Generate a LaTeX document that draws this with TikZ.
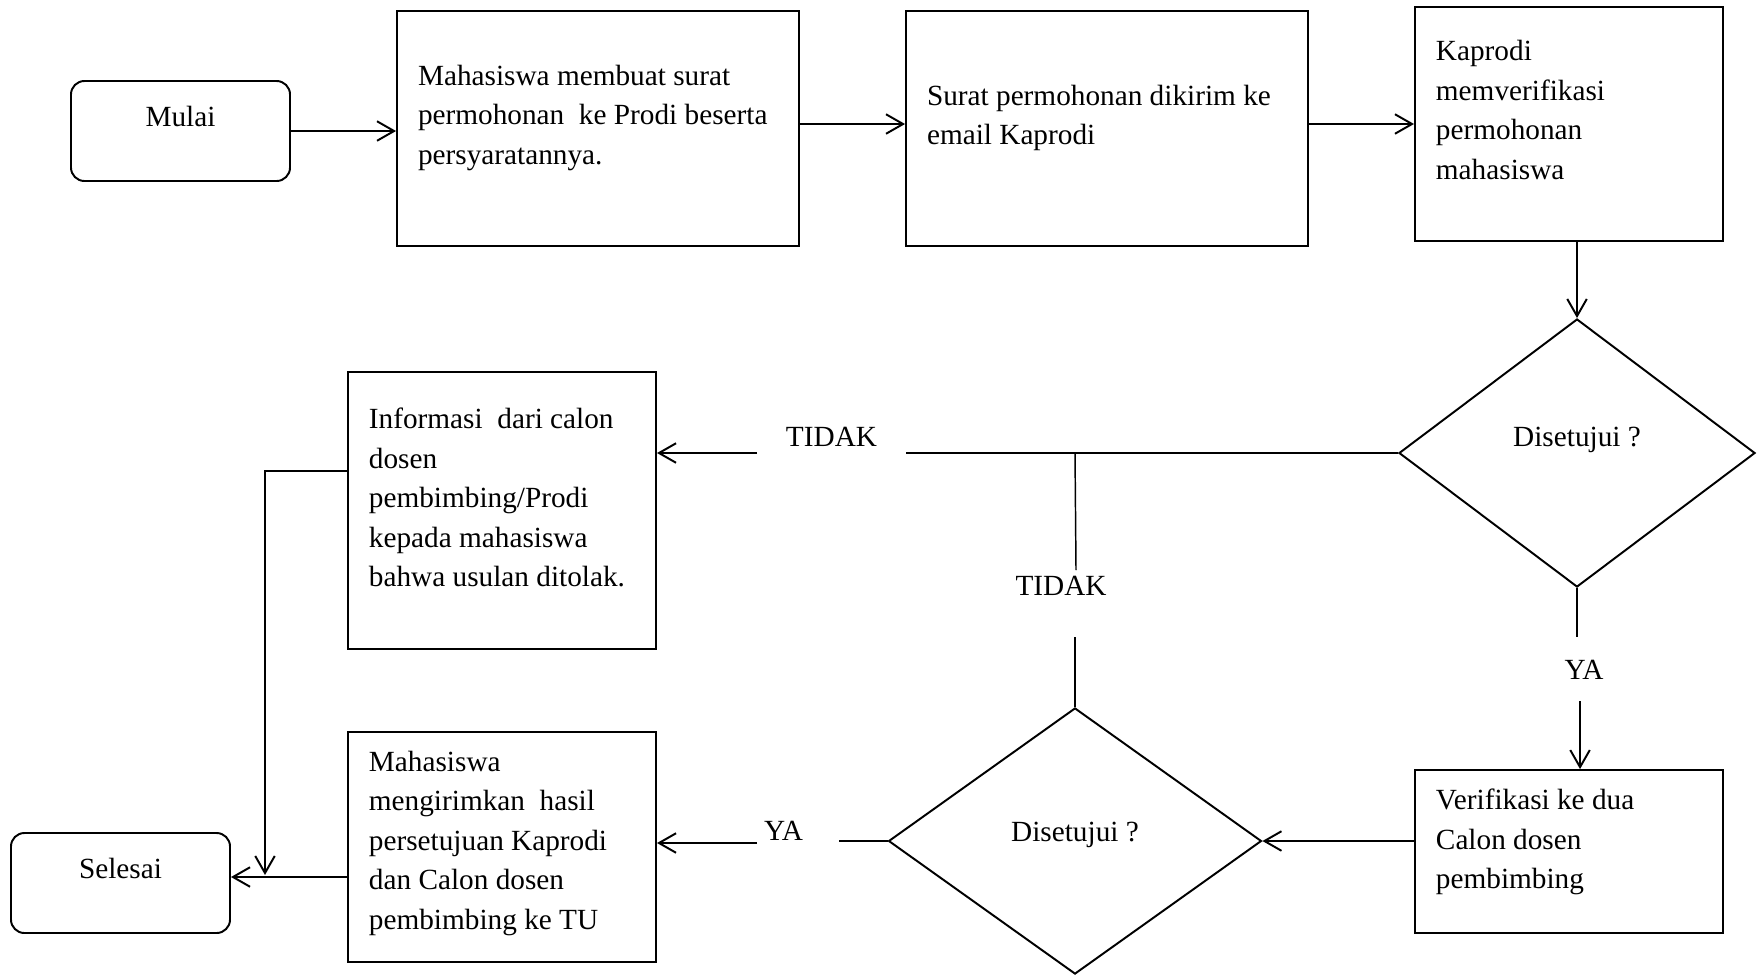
\documentclass[tikz,border=0pt]{standalone}
\usepackage{fontspec}
\setmainfont{Liberation Serif}
\usetikzlibrary{shapes.geometric, arrows.meta}
\newcommand{\ruangbawah}[1]{\endgraf\vspace*{#1}}

\begin{document}
\begin{tikzpicture}[x=0.41pt, y=-0.41pt, line width=0.8pt,
  >={Straight Barb[length=7pt,width=8pt]},
  every node/.style={font=\fontsize{12pt}{16.2pt}\selectfont},
  proses/.style={draw, rectangle, inner xsep=8.6pt, inner ysep=0pt,
    execute at begin node={\raggedright\spaceskip=3pt\relax},
    execute at end node={\ruangbawah{#1}}},
  proses/.default=8.7pt,
  terminal/.style={draw, rectangle, rounded corners=5.5pt, minimum width=89.8pt,
    minimum height=41pt, text height=9pt, text depth=12.8pt},
  keputusan/.style={draw, diamond, inner sep=0pt, text height=8pt, text depth=8pt},
  jawab/.style={inner sep=0pt, anchor=base}]
\useasboundingbox (0,0) rectangle (1758,977);

% Top row
\node[terminal] (mulai) at (180.5,131) {Mulai};
\node[proses, minimum width=164.8pt, text width=147.6pt, minimum height=96.4pt] (b1) at (598,128.5)
  {Mahasiswa membuat surat\\permohonan\ \ ke Prodi beserta\\persyaratannya.};
\node[proses, minimum width=164.8pt, text width=147.6pt, minimum height=96.4pt] (b2) at (1107,128.5)
  {Surat permohonan dikirim ke\\email Kaprodi};
\node[proses=11.5pt, minimum width=126.3pt, text width=109.1pt, minimum height=95.9pt] (kap) at (1569,124)
  {Kaprodi\\memverifikasi\\permohonan\\mahasiswa};

% Decisions
\node[keputusan, text depth=13.5pt, minimum width=146pt, minimum height=109.9pt] (d1) at (1577,453) {Disetujui ?};
\node[keputusan, minimum width=152.9pt, minimum height=109.1pt] (d2) at (1075,841) {Disetujui ?};

% Lower boxes
\node[proses=7.8pt, minimum width=126.3pt, text width=109.1pt, minimum height=66.8pt] (verif) at (1569,851.5)
  {Verifikasi ke dua\\Calon dosen\\pembimbing};
\node[proses=10.6pt, minimum width=126.3pt, text width=109.1pt, minimum height=113.6pt] (info) at (502,510.5)
  {Informasi\ \ dari calon\\dosen\\pembimbing/Prodi\\kepada mahasiswa\\bahwa usulan ditolak.};
\node[proses=3.2pt, minimum width=126.3pt, text width=109.1pt, minimum height=94.3pt] (mhs) at (502,847)
  {Mahasiswa\\mengirimkan\ \ hasil\\persetujuan Kaprodi\\dan Calon dosen\\pembimbing ke TU};
\node[terminal] (sel) at (120.5,883) {Selesai};

% Labels
\node[jawab] (tidak1) at (831.5,446) {TIDAK};
\node[jawab] (tidak2) at (1061,595) {TIDAK};
\node[jawab] (ya1) at (1584,679) {YA};
\node[jawab] (ya2) at (783.5,840) {YA};

\coordinate (t1a) at (906,453);
\coordinate (t1b) at (757,453);
\coordinate (t2a) at (1076,570);
\coordinate (t2b) at (1075,637);
\coordinate (y1a) at (1577,637);
\coordinate (y1b) at (1580,701);
\coordinate (y2a) at (839,841);
\coordinate (y2b) at (757,843);
\coordinate (turun) at (265,875);

% Connectors
\draw[->] (mulai.east) -- (mulai.east -| b1.west);
\draw[->] (b1.east |- kap.west) -- (b2.west |- kap.west);
\draw[->] (b2.east |- kap.west) -- (kap.west);
\draw[->] (kap.south -| d1.north) -- (d1.north);
\draw (d1.west) -- (t1a);
\draw[->] (t1b) -- (t1b -| info.east);
\draw[line width=0.6pt] (d2.north |- d1.west) -- (t2a);
\draw[line width=0.6pt] (t2b) -- (d2.north);
\draw (d1.south) -- (y1a);
\draw[->] (y1b) -- (y1b |- verif.north);
\draw[->] (verif.west |- d2.east) -- (d2.east);
\draw (d2.west) -- (y2a);
\draw[->] (y2b) -- (y2b -| mhs.east);
\draw[->] (mhs.west |- 0,877) -- (sel.east |- 0,877);
\draw[->] ([yshift=16.2pt]info.west) -| (turun);
\end{tikzpicture}
\end{document}
